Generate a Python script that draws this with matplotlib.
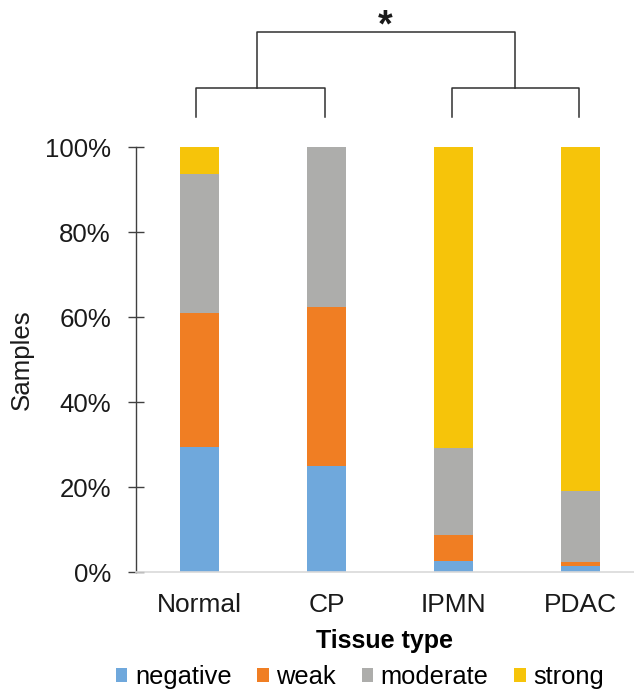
import numpy as np
import matplotlib
matplotlib.use("Agg")
import matplotlib.pyplot as plt
from matplotlib.patches import Patch

plt.rcParams['font.family'] = ['Liberation Sans', 'DejaVu Sans']

# data (fractions of samples)
tissues = ['Normal', 'CP', 'IPMN', 'PDAC']
levels = ['negative', 'weak', 'moderate', 'strong']
negative = [0.294, 0.250, 0.027, 0.015]
weak = [0.315, 0.375, 0.059, 0.009]
moderate = [0.329, 0.375, 0.207, 0.167]
strong = [0.062, 0.000, 0.707, 0.809]
colors = ['#6fa8dc', '#f07e23', '#adadab', '#f6c40a']

W, H = 634, 694
fig = plt.figure(figsize=(W / 100, H / 100), dpi=100)
ax = fig.add_axes([136 / W, 1 - 572 / H, (634 - 136) / W, (572 - 147.3) / H])

x = np.arange(len(tissues))
bottom = np.zeros(len(tissues))
for vals, col in zip([negative, weak, moderate, strong], colors):
    ax.bar(x, vals, width=0.31, bottom=bottom, color=col, zorder=2)
    bottom += np.array(vals)

ax.set_xlim(-0.5, 3.42)
ax.set_ylim(0, 1)
ax.set_yticks(np.arange(0, 1.01, 0.2))
ax.set_yticklabels([f'{int(round(v * 100))}%' for v in np.arange(0, 1.01, 0.2)])
ax.set_xticks(x)
ax.set_xticklabels(tissues)

for s in ['top', 'right']:
    ax.spines[s].set_visible(False)
ax.spines['left'].set_color('#404040')
ax.spines['left'].set_linewidth(1.0)
ax.spines['bottom'].set_color('#d9d9d9')
ax.spines['bottom'].set_linewidth(1.2)
ax.tick_params(axis='y', direction='inout', length=11, width=1.0, color='#404040',
               labelsize=18.6, pad=12.5, labelcolor='#1a1a1a')
ax.tick_params(axis='x', length=0, labelsize=19, pad=15, labelcolor='#1a1a1a')

ax.set_ylabel('Samples', fontsize=18.6, labelpad=8, color='#1a1a1a')
ax.set_xlabel('Tissue type', fontsize=18, fontweight='bold', labelpad=9)

# significance brackets
lc = '#303030'
y_leg_bot, y_leg_top, y_top = 1.071, 1.1396, 1.271
for a, b in [(-0.025, 0.985), (1.985, 2.99)]:
    ax.plot([a, a, b, b], [y_leg_bot, y_leg_top, y_leg_top, y_leg_bot],
            color=lc, lw=1.1, clip_on=False)
l_mid, r_mid = 0.455, 2.48
ax.plot([l_mid, l_mid, r_mid, r_mid], [y_leg_top, y_top, y_top, y_leg_top],
        color=lc, lw=1.1, clip_on=False)
ax.text((l_mid + r_mid) / 2 - 0.005, y_top - 0.03, '*', ha='center', va='bottom',
        fontsize=27, fontweight='bold', color='#1a1a1a')

handles = [Patch(facecolor=c, edgecolor='none') for c in colors]
fig.legend(handles, levels, loc='center', bbox_to_anchor=(360 / W, 1 - 677 / H),
           ncol=4, frameon=False, fontsize=18.4, handlelength=0.45, handleheight=0.45,
           handletextpad=0.3, columnspacing=1.0, borderpad=0)

fig.savefig('out.png', dpi=100)
